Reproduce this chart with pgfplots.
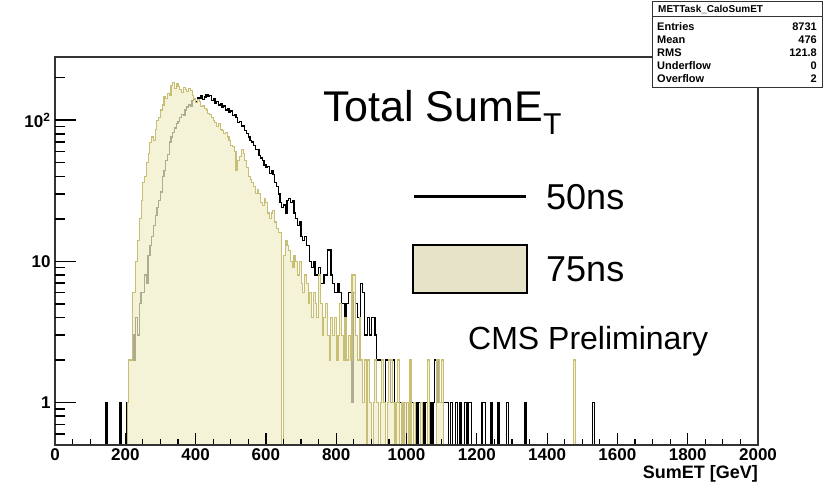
\documentclass[border=0pt]{standalone}
\usepackage{pgfplots}
\pgfplotsset{compat=1.18}
\usepackage{pgfplotstable}
\usepackage{fontspec}
\setmainfont{Liberation Sans}
\definecolor{tanline}{RGB}{200,190,118}
\definecolor{tanfill}{RGB}{240,238,200}
\definecolor{legfill}{RGB}{230,227,200}

% 50ns, 5 GeV bins (left edge, entries); 0.05 = empty bin
\pgfplotstableread[row sep=\\]{
x y\\
140 0.05\\ 145 1\\ 150 0.05\\ 185 1\\ 190 0.05\\ 205 1\\ 210 2\\ 215 2\\ 220 3\\ 225 2\\
230 4\\ 235 3\\ 240 5\\ 245 6\\ 250 6\\ 255 8\\ 260 7\\ 265 11\\ 270 13\\ 275 15\\
280 18\\ 285 21\\ 290 24\\ 295 27\\ 300 31\\ 305 40\\ 310 44\\ 315 52\\ 320 57\\ 325 70\\
330 76\\ 335 82\\ 340 88\\ 345 95\\ 350 98\\ 355 104\\ 360 110\\ 365 108\\ 370 118\\ 375 124\\
380 128\\ 385 126\\ 390 138\\ 395 140\\ 400 135\\ 405 145\\ 410 142\\ 415 150\\ 420 140\\ 425 146\\
430 152\\ 435 147\\ 440 150\\ 445 138\\ 450 141\\ 455 132\\ 460 136\\ 465 128\\ 470 131\\ 475 124\\
480 126\\ 485 118\\ 490 120\\ 495 114\\ 500 116\\ 505 108\\ 510 110\\ 515 104\\ 520 96\\ 525 98\\
530 90\\ 535 92\\ 540 84\\ 545 80\\ 550 76\\ 555 72\\ 560 70\\ 565 66\\ 570 62\\ 575 62\\
580 56\\ 585 54\\ 590 52\\ 595 48\\ 600 46\\ 605 47\\ 610 42\\ 615 44\\ 620 41\\ 625 36\\
630 34\\ 635 30\\ 640 26\\ 645 24\\ 650 25\\ 655 22\\ 660 27\\ 665 28\\ 670 26\\ 675 27\\
680 22\\ 685 20\\ 690 18\\ 695 19\\ 700 15\\ 705 14\\ 710 15\\ 715 13\\ 720 13\\ 725 10\\
730 9\\ 735 10\\ 740 8\\ 745 8\\ 750 9\\ 755 7\\ 760 7\\ 765 8\\ 770 8\\ 775 12\\
780 12\\ 785 8\\ 790 7\\ 795 6\\ 800 6\\ 805 7\\ 810 6\\ 815 5\\ 820 5\\ 825 4\\
830 5\\ 835 6\\ 840 6\\ 845 1\\ 850 6\\ 855 5\\ 860 4\\ 865 4\\ 870 7\\ 875 6\\
880 3\\ 885 3\\ 890 4\\ 895 3\\ 900 4\\ 905 4\\ 910 3\\ 915 2\\ 920 2\\ 925 2\\
930 2\\ 935 1\\ 940 2\\ 945 2\\ 950 2\\ 955 1\\ 960 2\\ 965 1\\ 970 1\\ 975 1\\
980 1\\ 985 0.05\\ 990 1\\ 995 1\\ 1000 0.05\\ 1005 1\\ 1010 1\\ 1015 1\\ 1020 0.05\\ 1025 1\\
1030 0.05\\ 1035 1\\ 1040 1\\ 1045 1\\ 1050 0.05\\ 1055 1\\ 1060 0.05\\ 1065 1\\ 1070 0.05\\ 1075 1\\
1080 2\\ 1085 2\\ 1090 1\\ 1095 1\\ 1100 1\\ 1105 1\\ 1110 1\\ 1115 1\\ 1120 0.05\\ 1125 1\\
1130 0.05\\ 1140 1\\ 1145 0.05\\ 1150 1\\ 1155 0.05\\ 1165 1\\ 1170 0.05\\ 1175 1\\ 1180 1\\ 1185 0.05\\
1215 1\\ 1220 1\\ 1225 0.05\\ 1240 1\\ 1245 0.05\\ 1260 1\\ 1265 0.05\\ 1285 1\\ 1290 0.05\\ 1335 1\\
1340 0.05\\ 1530 1\\ 1535 0.05\\ 2000 0.05\\
}\blackdata

% 75ns
\pgfplotstableread[row sep=\\]{
x y\\
200 0.05\\ 205 1\\ 210 2\\ 215 2\\ 220 6\\ 225 6\\ 230 10\\ 235 14\\ 240 20\\ 245 27\\
250 36\\ 255 40\\ 260 50\\ 265 58\\ 270 69\\ 275 76\\ 280 72\\ 285 86\\ 290 100\\ 295 105\\
300 118\\ 305 128\\ 310 147\\ 315 142\\ 320 155\\ 325 150\\ 330 175\\ 335 184\\ 340 168\\ 345 182\\
350 172\\ 355 165\\ 360 158\\ 365 170\\ 370 166\\ 375 160\\ 380 168\\ 385 162\\ 390 150\\ 395 142\\
400 133\\ 405 140\\ 410 136\\ 415 124\\ 420 126\\ 425 120\\ 430 118\\ 435 112\\ 440 110\\ 445 104\\
450 100\\ 455 96\\ 460 90\\ 465 94\\ 470 86\\ 475 84\\ 480 80\\ 485 82\\ 490 76\\ 495 72\\
500 66\\ 505 65\\ 510 60\\ 515 44\\ 520 52\\ 525 55\\ 530 62\\ 535 58\\ 540 52\\ 545 46\\
550 40\\ 555 38\\ 560 36\\ 565 34\\ 570 30\\ 575 32\\ 580 30\\ 585 26\\ 590 25\\ 595 28\\
600 26\\ 605 22\\ 610 20\\ 615 22\\ 620 23\\ 625 19\\ 630 17\\ 635 16\\ 640 16\\ 645 0.05\\
650 11\\ 655 14\\ 660 13\\ 665 12\\ 670 10\\ 675 9\\ 680 11\\ 685 10\\ 690 8\\ 695 10\\
700 7\\ 705 6\\ 710 8\\ 715 7\\ 720 5\\ 725 6\\ 730 4\\ 735 6\\ 740 5\\ 745 4\\
750 8\\ 755 5\\ 760 3\\ 765 4\\ 770 5\\ 775 3\\ 780 2\\ 785 4\\ 790 3\\ 795 4\\
800 2\\ 805 3\\ 810 5\\ 815 3\\ 820 2\\ 825 4\\ 830 2\\ 835 3\\ 840 2\\ 845 8\\
850 8\\ 855 3\\ 860 2\\ 865 4\\ 870 2\\ 875 1\\ 880 2\\ 885 0.05\\ 890 2\\ 895 1\\
900 0.05\\ 905 1\\ 910 2\\ 915 1\\ 920 0.05\\ 925 1\\ 930 2\\ 935 1\\ 940 0.05\\ 945 1\\
950 2\\ 955 2\\ 960 1\\ 965 0.05\\ 970 1\\ 975 2\\ 980 0.05\\ 985 1\\ 990 0.05\\ 995 1\\
1000 1\\ 1005 0.05\\ 1010 2\\ 1015 0.05\\ 1020 1\\ 1025 0.05\\ 1040 1\\ 1045 0.05\\ 1060 2\\ 1065 0.05\\
1085 2\\ 1090 2\\ 1095 1\\ 1100 2\\ 1105 0.05\\ 1475 2\\ 1480 0.05\\ 2000 0.05\\
}\tandata

\begin{document}
\begin{tikzpicture}[x=1pt,y=1pt]
\fill[white] (0,0) rectangle (827,484);
% main axis: data, frame and x ticks
\begin{axis}[
  at={(55pt,39pt)}, anchor=south west,
  scale only axis, width=703pt, height=388pt,
  xmin=0, xmax=2000, ymode=log, ymin=0.5, ymax=280,
  log origin=infty,
  axis on top,
  axis line style={line width=1.2pt, black!80},
  tick align=inside,
  xtick pos=left,
  xtick={0,200,...,2000},
  xticklabels={0,200,400,600,800,1000,1200,1400,1600,1800,2000},
  minor x tick num=3,
  major tick length=12pt, minor tick length=6pt,
  xtick style={line width=1.2pt, black},
  ytick=\empty,
  tick label style={font=\bfseries\fontsize{17}{17}\selectfont},
]
\addplot[const plot, draw=black, line width=1.3pt] table[x=x,y=y] {\blackdata};
\addplot[const plot, fill=tanfill, fill opacity=0.72, draw=none] table[x=x,y=y] {\tandata} \closedcycle;
\addplot[const plot, draw=tanline, line width=1.1pt] table[x=x,y=y] {\tandata};
\end{axis}
% overlay axis: y ticks only (longer ticks, as in the reference)
\begin{axis}[
  at={(55pt,39pt)}, anchor=south west,
  scale only axis, width=703pt, height=388pt,
  xmin=0, xmax=2000, ymode=log, ymin=0.5, ymax=280,
  axis line style={draw=none},
  xtick=\empty,
  tick align=inside,
  ytick pos=left,
  ytick={1,10,100},
  yticklabels={1,10,10\textsuperscript{2}},
  minor ytick={0.6,0.7,0.8,0.9,2,3,4,5,6,7,8,9,20,30,40,50,60,70,80,90,200},
  major tick length=21pt, minor tick length=10pt,
  ytick style={line width=1.4pt, black},
  tick label style={font=\bfseries\fontsize{17}{17}\selectfont},
  yticklabel style={xshift=-1pt},
]
\end{axis}

% x label
\node[anchor=base east, inner sep=0pt, font=\bfseries\fontsize{18}{18}\selectfont] at (758,5) {SumET [GeV]};

% title text
\node[anchor=base west, inner sep=0pt, font=\fontsize{43}{43}\selectfont] at (323,362) {Total SumE\textsubscript{T}};

% legend
\draw[line width=3pt, black] (414,287) -- (526,287);
\node[anchor=west, inner sep=0pt, font=\fontsize{36}{36}\selectfont] at (546,287) {50ns};
\draw[line width=2pt, black, fill=legfill] (413,191) rectangle (527,239);
\node[anchor=west, inner sep=0pt, font=\fontsize{36}{36}\selectfont] at (546,215) {75ns};

\node[anchor=base west, inner sep=0pt, font=\fontsize{32}{32}\selectfont] at (468,134) {CMS Preliminary};

% stats box
\draw[line width=1pt, black!80, fill=white] (652,482) rectangle (822,396);
\draw[line width=1pt, black!80] (652,467) -- (822,467);
\node[anchor=west, inner sep=0pt, font=\bfseries\fontsize{10}{10}\selectfont] at (658,475) {METTask\_CaloSumET};
\begin{scope}[every node/.style={inner sep=0pt, font=\bfseries\fontsize{11}{11}\selectfont}]
\node[anchor=west] at (657,457) {Entries};   \node[anchor=east] at (817,457) {8731};
\node[anchor=west] at (657,444) {Mean};      \node[anchor=east] at (817,444) {476};
\node[anchor=west] at (657,431) {RMS};       \node[anchor=east] at (817,431) {121.8};
\node[anchor=west] at (657,418) {Underflow}; \node[anchor=east] at (817,418) {0};
\node[anchor=west] at (657,405) {Overflow};  \node[anchor=east] at (817,405) {2};
\end{scope}

\pgfresetboundingbox
\path[use as bounding box] (0,0) rectangle (827,484);
\end{tikzpicture}
\end{document}
